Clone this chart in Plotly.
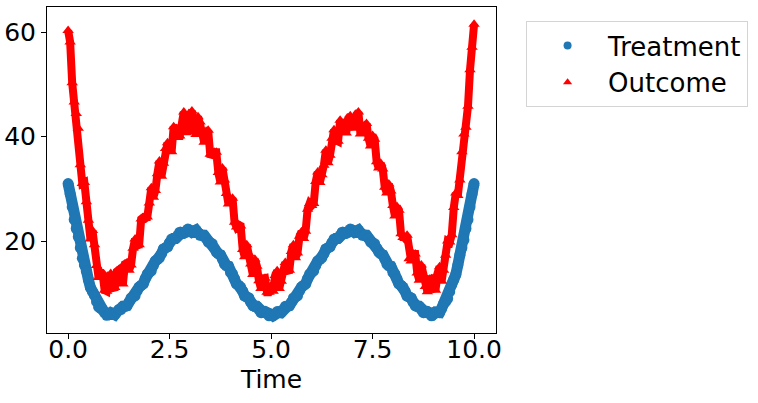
import plotly.graph_objects as go

# Time grid (values read at steps of 0.05)
time = [round(i * 0.05, 2) for i in range(201)]

treatment = [
    31.0, 29.0, 26.5, 24.1, 22.4, 20.8, 18.7, 16.7, 15.4, 14.2,
    12.6, 11.1, 10.3, 9.6, 8.4, 7.4, 7.1, 6.9, 6.3, 5.8,
    6.0, 6.3, 6.1, 5.9, 6.4, 6.9, 6.9, 7.5, 7.5, 7.6,
    8.3, 9.1, 9.3, 9.5, 10.4, 11.2, 11.5, 11.8, 12.8, 13.7,
    14.0, 14.3, 15.3, 16.2, 16.5, 16.8, 17.6, 18.5, 18.7, 18.9,
    19.7, 20.4, 20.5, 20.5, 21.1, 21.7, 21.6, 21.5, 21.9, 22.3,
    22.0, 21.7, 21.9, 22.1, 21.6, 21.1, 21.1, 21.1, 20.5, 19.8,
    19.7, 19.5, 18.7, 17.9, 17.6, 17.4, 16.5, 15.6, 15.3, 15.2,
    14.0, 13.7, 12.8, 11.8, 11.5, 11.2, 10.4, 9.5, 9.3, 9.1,
    8.3, 7.6, 7.5, 7.5, 6.9, 6.3, 6.4, 6.5, 6.1, 5.7,
    6.0, 5.7, 6.1, 6.5, 6.4, 6.3, 6.9, 7.5, 7.5, 7.6,
    8.3, 9.1, 9.3, 9.5, 10.4, 11.2, 11.5, 11.8, 12.8, 13.7,
    14.0, 14.3, 15.3, 16.2, 16.5, 16.8, 17.6, 18.5, 18.7, 18.9,
    19.7, 20.4, 20.5, 20.5, 21.1, 21.7, 21.6, 21.5, 21.9, 22.3,
    22.0, 21.7, 21.9, 22.1, 21.6, 21.1, 21.1, 21.1, 20.5, 19.8,
    19.7, 19.5, 18.7, 17.9, 17.6, 17.4, 16.5, 15.6, 15.3, 15.2,
    14.0, 13.7, 12.8, 11.8, 11.5, 11.2, 10.4, 9.5, 9.3, 9.1,
    8.3, 7.6, 7.5, 7.5, 6.9, 6.3, 6.4, 6.5, 6.1, 5.7,
    6.0, 6.4, 6.3, 6.3, 7.1, 8.0, 8.4, 9.0, 10.3, 11.7,
    12.6, 13.6, 15.4, 17.3, 18.7, 20.2, 22.4, 24.1, 26.5, 29.0,
    31.0,
]

outcome = [
    60.3, 58.1, 50.3, 46.6, 44.4, 41.6, 34.6, 31.0, 31.2, 27.5,
    24.0, 20.4, 22.0, 19.3, 15.3, 13.0, 14.2, 13.7, 10.6, 10.4,
    13.1, 13.8, 11.0, 11.1, 14.2, 14.5, 13.1, 11.8, 15.6, 15.8,
    14.4, 15.4, 18.6, 20.4, 19.1, 19.3, 24.2, 24.5, 24.3, 24.6,
    27.3, 30.2, 28.4, 29.7, 32.9, 35.3, 32.4, 34.9, 37.7, 38.8,
    37.8, 37.1, 41.9, 41.5, 40.1, 40.1, 42.4, 44.7, 41.0, 41.0,
    44.3, 44.9, 41.8, 40.4, 43.8, 42.8, 40.8, 38.9, 41.0, 41.2,
    36.6, 36.5, 37.0, 37.0, 33.1, 31.3, 34.0, 31.7, 29.1, 27.1,
    27.8, 28.2, 23.6, 22.7, 23.1, 22.9, 18.4, 17.0, 19.3, 17.6,
    15.6, 13.6, 16.5, 15.2, 12.4, 10.9, 12.8, 12.9, 10.2, 10.2,
    10.9, 10.4, 13.4, 14.3, 10.9, 12.3, 14.4, 15.9, 14.3, 14.4,
    18.0, 19.3, 16.8, 17.7, 20.9, 21.8, 20.5, 21.9, 26.1, 27.2,
    26.8, 27.2, 31.4, 33.2, 31.2, 32.7, 34.5, 37.4, 35.0, 36.4,
    39.7, 41.3, 39.3, 39.1, 43.1, 42.2, 40.9, 40.7, 43.5, 44.0,
    42.1, 41.6, 44.2, 44.7, 40.5, 41.1, 42.1, 42.5, 39.7, 38.2,
    40.2, 39.5, 35.2, 34.0, 34.9, 33.8, 30.3, 29.2, 30.9, 29.6,
    26.8, 24.8, 26.6, 25.9, 21.4, 20.7, 20.5, 21.1, 16.6, 16.2,
    17.5, 17.5, 13.9, 12.5, 15.4, 13.4, 11.3, 10.3, 12.7, 12.8,
    10.9, 10.6, 13.8, 15.1, 12.3, 14.4, 17.3, 20.0, 19.8, 21.2,
    26.4, 29.2, 28.7, 31.7, 37.1, 40.5, 41.8, 45.8, 52.8, 57.1,
    61.5,
]

x_ticks = [0, 2.5, 5, 7.5, 10]
x_tick_labels = ["0.0", "2.5", "5.0", "7.5", "10.0"]
y_ticks = [20, 40, 60]
y_tick_labels = ["20", "40", "60"]

BLUE = "#1f77b4"
RED = "#ff0000"
FONT = "DejaVu Sans"

fig = go.Figure()

# connecting strokes so the dense scatter reads as a continuous band
fig.add_trace(go.Scatter(x=time, y=treatment, mode="lines",
                         line=dict(color=BLUE, width=11), showlegend=False,
                         hoverinfo="skip"))
fig.add_trace(go.Scatter(x=time, y=outcome, mode="lines",
                         line=dict(color=RED, width=8), showlegend=False,
                         hoverinfo="skip"))

fig.add_trace(go.Scatter(x=time, y=treatment, mode="markers", name="Treatment",
                         marker=dict(color=BLUE, size=11, symbol="circle"),
                         showlegend=False))
fig.add_trace(go.Scatter(x=time, y=outcome, mode="markers", name="Outcome",
                         marker=dict(color=RED, size=10, symbol="triangle-up"),
                         showlegend=False))

# legend entries (small markers, as in the reference legend)
fig.add_trace(go.Scatter(x=[None], y=[None], mode="markers", name="Treatment",
                         marker=dict(color=BLUE, size=8, symbol="circle")))
fig.add_trace(go.Scatter(x=[None], y=[None], mode="markers", name="Outcome",
                         marker=dict(color=RED, size=8, symbol="triangle-up")))

fig.update_layout(
    width=758, height=403,
    margin=dict(l=47, r=262, t=7, b=70),
    paper_bgcolor="white", plot_bgcolor="white",
    font=dict(family=FONT, size=25, color="black"),
    showlegend=True,
    legend=dict(
        x=1.067, y=0.957, xanchor="left", yanchor="top",
        bordercolor="#d4d4d4", borderwidth=1, bgcolor="white",
        font=dict(family=FONT, size=26, color="black"),
        itemwidth=71,
    ),
)
fig.update_xaxes(
    range=[-0.52, 10.54], tickvals=x_ticks, ticktext=x_tick_labels,
    showgrid=False, zeroline=False, showline=True, linecolor="black",
    linewidth=1, mirror=True, ticks="outside", ticklen=5, tickcolor="black",
    tickfont=dict(family=FONT, size=25), ticklabelstandoff=-11,
    title=dict(text="Time", font=dict(family=FONT, size=25), standoff=7),
    automargin=False,
)
fig.update_yaxes(
    range=[2.4, 64.8], tickvals=y_ticks, ticktext=y_tick_labels,
    showgrid=False, zeroline=False, showline=True, linecolor="black",
    linewidth=1, mirror=True, ticks="outside", ticklen=5, tickcolor="black",
    tickfont=dict(family=FONT, size=25),
    automargin=False,
)

fig.write_html("out.html", config={"displayModeBar": False},
               post_script="document.body.style.margin='0px';")
